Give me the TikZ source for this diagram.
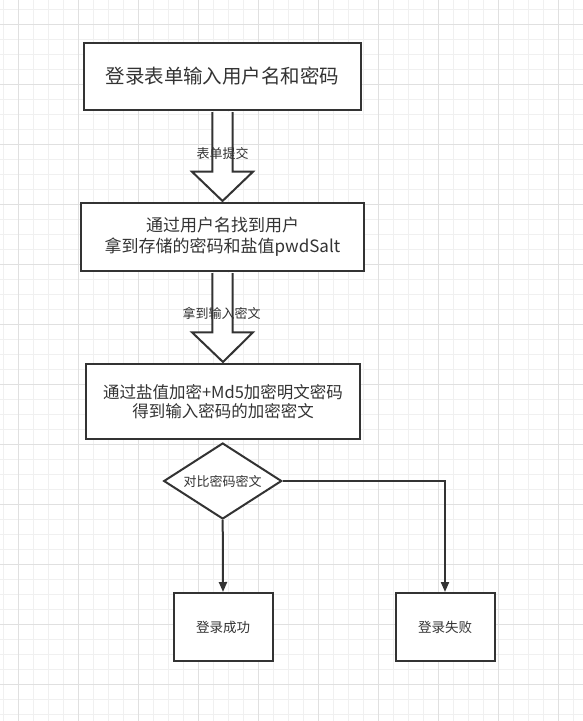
\documentclass[tikz,border=0pt]{standalone}
\usepackage{fontspec}
\setmainfont{Noto Sans CJK SC}
\usetikzlibrary{shapes.geometric,arrows.meta,calc}
\definecolor{ink}{HTML}{333333}
\definecolor{gmin}{HTML}{F0F0F0}
\definecolor{gmaj}{HTML}{E0E0E0}
\begin{document}
\begin{tikzpicture}[x=1pt,y=-1pt,
  box/.style={draw=ink,line width=2pt,fill=white,text=ink,align=center,inner sep=0pt},
  dec/.style={diamond,draw=ink,line width=2pt,fill=white,text=ink,inner sep=0pt,aspect=1.54},
  barrow/.style={draw=ink,line width=2pt,fill=white,line join=miter},
  conn/.style={draw=ink,line width=2pt,-{Triangle[length=10pt,width=8pt]}},
  lbl/.style={text=ink,font=\fontsize{13}{15}\selectfont,inner sep=0pt}]
\useasboundingbox (0,0) rectangle (583,721);
\fill[white] (0,0) rectangle (583,721);
\foreach \i in {0,...,38} \draw[gmin,line width=1pt] ({3.3+15*\i},0) -- ({3.3+15*\i},721);
\foreach \i in {0,...,47} \draw[gmin,line width=1pt] (0,{9.3+15*\i}) -- (583,{9.3+15*\i});
\foreach \i in {0,...,9} \draw[gmaj,line width=1pt] ({18.3+60*\i},0) -- ({18.3+60*\i},721);
\foreach \i in {0,...,11} \draw[gmaj,line width=1pt] (0,{24.3+60*\i}) -- (583,{24.3+60*\i});

\node[box,minimum width=277pt,minimum height=67pt,font=\fontsize{19.5}{23}\selectfont] (b1) at (222.5,76.5) {登录表单输入用户名和密码};
\node[box,minimum width=283pt,minimum height=68pt,font=\fontsize{17}{21}\selectfont] (b2) at (222.5,237) {通过用户名找到用户\\拿到存储的密码和盐值pwdSalt};
\node[box,minimum width=274pt,minimum height=75pt,font=\fontsize{16.5}{19.5}\selectfont] (b3) at (223,401.5) {通过盐值加密+Md5加密明文密码\\得到输入密码的加密密文};
\node[dec,minimum width=118pt,minimum height=76pt,font=\fontsize{13}{15}\selectfont] (d) at (222.7,481) {对比密码密文};
\node[box,minimum width=99pt,minimum height=68pt,font=\fontsize{13.5}{16}\selectfont] (s) at (223,627) {登录成功};
\node[box,minimum width=99pt,minimum height=68pt,font=\fontsize{13.5}{16}\selectfont] (f) at (445,627) {登录失败};

\draw[barrow] ($(b1.south)+(-10.2,1)$) -- ($(b1.south)+(-10.2,60.7)$) -- ($(b1.south)+(-30.5,60.7)$)
  -- ($(b2.north)+(0,-1)$) -- ($(b1.south)+(30.5,60.7)$) -- ($(b1.south)+(10.2,60.7)$) -- ($(b1.south)+(10.2,1)$);
\draw[barrow] ($(b2.south)+(-10.2,1)$) -- ($(b2.south)+(-10.2,60.3)$) -- ($(b2.south)+(-30.5,60.3)$)
  -- ($(b3.north)+(0,-1)$) -- ($(b2.south)+(30.5,60.3)$) -- ($(b2.south)+(10.2,60.3)$) -- ($(b2.south)+(10.2,1)$);
\node[lbl] (l1) at ($(b1.south)+(0.2,42.3)$) {表单提交};
\node[lbl] (l2) at ($(b2.south)+(-0.8,41.3)$) {拿到输入密文};

\draw[conn] (d.south) -- (s.north);
\draw[conn] (d.east) -| (f.north);
\end{tikzpicture}
\end{document}
